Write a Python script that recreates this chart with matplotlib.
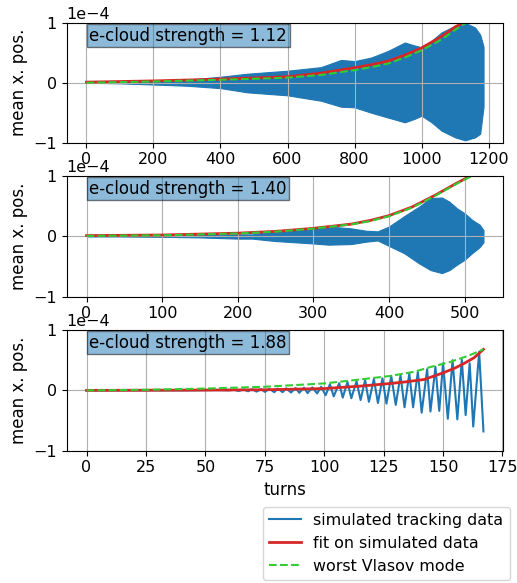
import matplotlib
matplotlib.use("Agg")
import matplotlib.pyplot as plt
import numpy as np

plt.rcParams['font.size'] = 12
plt.rcParams['xtick.labelsize'] = 11.5
plt.rcParams['ytick.labelsize'] = 11.5

# panel labels
strengths = ["1.12", "1.40", "1.88"]

# --- panel 1 (e-cloud 1.12): envelope of the tracking data, units of 1e-4
turns1 = [0, 100, 200, 300, 400, 480, 600, 700, 760, 800, 850, 900, 950, 980,
          1000, 1030, 1060, 1100, 1130, 1160, 1175, 1185]
upper1 = [0, 0.01, 0.02, 0.05, 0.1, 0.15, 0.2, 0.26, 0.38, 0.36, 0.42, 0.53,
          0.67, 0.62, 0.59, 0.7, 0.84, 0.95, 1.0, 0.92, 0.8, 0.6]
lower1 = [0, -0.01, -0.03, -0.05, -0.09, -0.16, -0.21, -0.3, -0.4, -0.41, -0.5,
          -0.58, -0.66, -0.6, -0.55, -0.66, -0.8, -0.91, -0.96, -0.91, -0.85, -0.4]
fit_t1 = [0, 200, 400, 500, 600, 700, 800, 850, 900, 950, 1000, 1050, 1075,
          1100, 1125, 1150]
fit1 = [0.01, 0.03, 0.06, 0.08, 0.1, 0.16, 0.25, 0.3, 0.36, 0.46, 0.58, 0.74,
        0.83, 0.93, 1.0, 1.1]
vlasov1 = [0.0, 0.02, 0.05, 0.065, 0.085, 0.13, 0.21, 0.26, 0.32, 0.42, 0.54,
           0.69, 0.78, 0.88, 0.97, 1.06]

# --- panel 2 (e-cloud 1.40)
turns2 = [0, 50, 100, 150, 200, 219, 250, 300, 320, 350, 370, 385, 400, 420,
          440, 455, 470, 480, 490, 500, 510, 520, 525]
upper2 = [0, 0.005, 0.01, 0.02, 0.03, 0.03, 0.09, 0.13, 0.16, 0.13, 0.09, 0.08,
          0.16, 0.33, 0.49, 0.63, 0.64, 0.57, 0.46, 0.38, 0.27, 0.19, 0.1]
lower2 = [0, -0.005, -0.01, -0.02, -0.04, -0.04, -0.08, -0.12, -0.14, -0.13,
          -0.09, -0.07, -0.16, -0.28, -0.45, -0.56, -0.61, -0.56, -0.47, -0.39,
          -0.28, -0.18, -0.1]
fit_t2 = [0, 100, 200, 250, 300, 350, 375, 400, 430, 460, 490, 510, 520]
fit2 = [0.01, 0.02, 0.05, 0.08, 0.13, 0.2, 0.26, 0.34, 0.48, 0.67, 0.88, 1.01, 1.08]
vlasov2 = [0.005, 0.015, 0.045, 0.075, 0.125, 0.195, 0.25, 0.33, 0.47, 0.66,
           0.87, 1.0, 1.07]

# --- panel 3 (e-cloud 1.88): extrema of the tracking signal
turns3 = [0, 20, 40, 55, 60, 62, 64, 66, 68, 69.5, 71.5, 73.5, 75, 77, 79, 80.5,
          82.5, 84, 86, 88, 89.5, 91.5, 93, 95, 97, 98.7, 100.6, 102.4, 104.0,
          106.3, 107.8, 109.8, 111.4, 113.6, 115.3, 117.2, 118.8, 120.9, 122.6,
          124.5, 126.2, 128.2, 130.1, 132.1, 133.8, 135.8, 137.4, 139.4, 141.0,
          143.3, 144.7, 146.8, 148.4, 150.0, 152.0, 154.0, 156.0, 157.9, 159.5,
          161.2, 162.7, 165.2, 167.0]
track3 = [0, 0, 0, 0.005, 0.0, 0.01, -0.01, 0.015, -0.015, 0.02, -0.02, 0.02,
          -0.025, 0.025, -0.03, 0.03, -0.03, 0.035, -0.035, 0.04, -0.04, 0.045,
          -0.045, 0.05, -0.05, 0.06, -0.08, 0.10, -0.10, 0.12, -0.12, 0.14, -0.13,
          0.15, -0.16, 0.17, -0.19, 0.19, -0.21, 0.20, -0.22, 0.24, -0.24, 0.25,
          -0.28, 0.28, -0.28, 0.31, -0.37, 0.35, -0.35, 0.39, -0.34, 0.45, -0.47,
          0.50, -0.48, 0.51, -0.41, 0.45, -0.60, 0.64, -0.68]
fit_t3 = [0, 50, 75, 100, 115, 128, 134, 142, 150, 155, 159, 163, 167]
fit3 = [0, 0.005, 0.01, 0.03, 0.07, 0.115, 0.14, 0.18, 0.29, 0.37, 0.45, 0.54, 0.68]
vl_t3 = [0, 25, 50, 75, 100, 115, 128, 138, 145, 153, 161, 167]
vlasov3 = [0, 0.01, 0.03, 0.06, 0.115, 0.18, 0.24, 0.31, 0.39, 0.47, 0.58, 0.68]

scale = 1e-4
red = 'tab:red'
green = 'limegreen'

fig = plt.figure(figsize=(5.17, 5.83), dpi=100)
L, W = 0.129, 0.8445
ax1 = fig.add_axes([L, 0.7552, W, 0.2058])
ax2 = fig.add_axes([L, 0.4911, W, 0.2075])
ax3 = fig.add_axes([L, 0.2269, W, 0.207])

# dense oscillation drawn as its envelope band
ax1.fill_between(turns1, np.array(lower1) * scale, np.array(upper1) * scale,
                 color='C0', lw=0.8)
ax1.plot(fit_t1, np.array(fit1) * scale, color=red, lw=2)
ax1.plot(fit_t1, np.array(vlasov1) * scale, color=green, lw=1.5, ls='--')
ax1.set_xlim(-59, 1244)

ax2.fill_between(turns2, np.array(lower2) * scale, np.array(upper2) * scale,
                 color='C0', lw=0.8)
ax2.plot(fit_t2, np.array(fit2) * scale, color=red, lw=2)
ax2.plot(fit_t2, np.array(vlasov2) * scale, color=green, lw=1.5, ls='--')
ax2.set_xlim(-26.25, 551.25)

l1, = ax3.plot(turns3, np.array(track3) * scale, color='C0', lw=1.5,
               label='simulated tracking data')
l2, = ax3.plot(fit_t3, np.array(fit3) * scale, color=red, lw=2,
               label='fit on simulated data')
l3, = ax3.plot(vl_t3, np.array(vlasov3) * scale, color=green, lw=1.5, ls='--',
               label='worst Vlasov mode')
ax3.set_xlim(-8.35, 175.35)
ax3.set_xticks([0, 25, 50, 75, 100, 125, 150, 175])
ax3.set_xlabel('turns')

for ax, s in zip([ax1, ax2, ax3], strengths):
    ax.set_ylim(-1e-4, 1e-4)
    ax.set_yticks([-1e-4, 0, 1e-4])
    ax.ticklabel_format(axis='y', style='sci', scilimits=(0, 0))
    ax.grid(True)
    ax.set_ylabel('mean x. pos.')
    ax.text(0.052, 0.893, 'e-cloud strength = ' + s, transform=ax.transAxes,
            va='center', ha='left',
            bbox=dict(facecolor='C0', alpha=0.5, boxstyle='square,pad=0.15'))

fig.legend(handles=[l1, l2, l3], loc='upper left', fontsize=11.4,
           borderaxespad=0, bbox_to_anchor=(262.7 / 517, 1 - 506.7 / 583))

fig.savefig('out.png', dpi=100)
